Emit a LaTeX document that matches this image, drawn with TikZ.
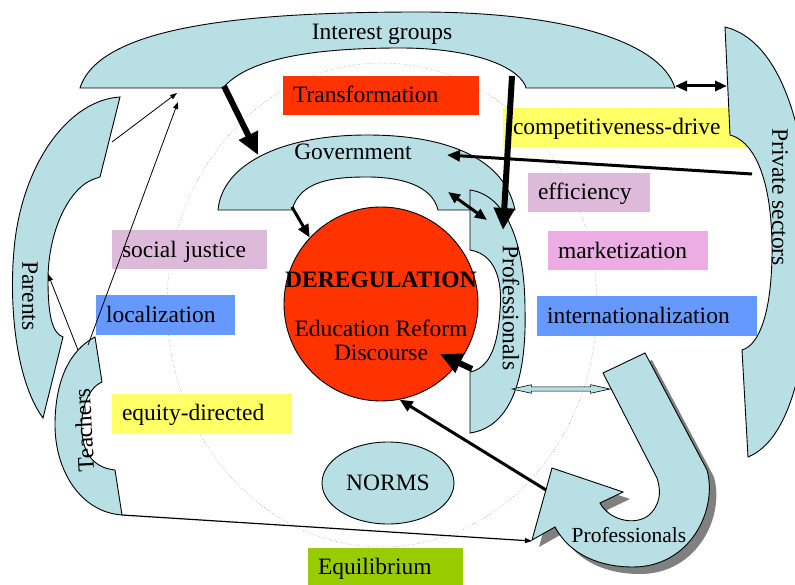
\documentclass[tikz,border=0pt]{standalone}
\usepackage{fontspec}
\setmainfont{Liberation Serif}
\usetikzlibrary{arrows.meta,shapes.geometric,shapes.arrows,shadows}
\definecolor{paleblue}{RGB}{184,224,228}
\definecolor{hotred}{RGB}{255,51,0}
\definecolor{lightyellow}{RGB}{255,255,102}
\definecolor{skyblue}{RGB}{102,153,255}
\definecolor{mauve}{RGB}{222,186,218}
\definecolor{pinkish}{RGB}{236,172,228}
\definecolor{limegreen}{RGB}{153,204,0}

\begin{document}
\begin{tikzpicture}[x=1pt,y=-1pt,
    every node/.style={font=\fontsize{23.5}{23.5}\selectfont},
    blob/.style={draw,fill=paleblue,line width=.9pt},
    tag/.style 2 args={rectangle,fill=#1,text width=#2,inner xsep=10pt,inner ysep=0pt,
      minimum height=39pt,text height=17pt,text depth=2pt,align=left},
    bigarrow/.style={line width=6pt,-{Triangle[length=22pt,width=20pt]}},
    medarrow/.style={line width=3pt,-{Triangle[length=13pt,width=11pt]}},
    twoway/.style={line width=3pt,{Triangle[length=12pt,width=10pt]}-{Triangle[length=12pt,width=10pt]}},
    thinarrow/.style={line width=.8pt,-{Triangle[length=7pt,width=5pt]}}]

    \useasboundingbox (0,0) rectangle (795,585);
    \clip (0,0) rectangle (795,585);

    % dotted ring
    \draw[gray,dotted,line width=.5pt] (382,305) ellipse [x radius=215,y radius=242];

    % labels
    \node[tag={hotred}{176pt}] (trans) at (381,95.5) {Transformation};
    \node[tag={lightyellow}{234pt}] (comp) at (630,127.5) {competitiveness-drive};
    \node[tag={mauve}{102pt}] (eff) at (589,192.5) {efficiency};
    \node[tag={pinkish}{140pt}] (mark) at (628,251) {marketization};
    \node[tag={skyblue}{200pt}] (intl) at (647,316) {internationalization};
    \node[tag={mauve}{135pt}] (soc) at (189.5,250) {social justice};
    \node[tag={skyblue}{119pt}] (loc) at (165.5,315) {localization};
    \node[tag={lightyellow}{160pt}] (equ) at (202,413) {equity-directed};
    \node[tag={limegreen}{135pt}] (equil) at (385.5,567) {Equilibrium};

    % interest groups
    \draw[blob] (80,88) -- (223,88) .. controls (245,62) and (300,48) .. (400,48)
      .. controls (470,48) and (515,65) .. (525,85) -- (526,88) -- (675,88)
      .. controls (660,40) and (560,12) .. (420,12) .. controls (250,12) and (100,25) .. (80,88) -- cycle;
    % government
    \draw[blob] (218,210) -- (292,210) .. controls (300,180) and (335,177) .. (367,177)
      .. controls (400,177) and (432,185) .. (438,210) -- (515,210)
      .. controls (505,160) and (450,135) .. (367,135) .. controls (280,135) and (222,165) .. (218,210) -- cycle;
    % professionals
    \draw[blob] (470,190) -- (470,250) .. controls (500,255) and (502,290) .. (500,310)
      .. controls (498,345) and (490,368) .. (470,372) -- (470,433)
      .. controls (505,428) and (527,390) .. (525,310) .. controls (525,240) and (505,195) .. (470,190) -- cycle;
    % private sectors
    \draw[blob] (725,27) -- (730,135) .. controls (750,140) and (772,170) .. (772,250)
      .. controls (772,310) and (760,345) .. (742,350) -- (748,457)
      .. controls (790,440) and (810,360) .. (810,250) .. controls (810,130) and (780,40) .. (725,27) -- cycle;
    % parents
    \draw[blob] (120,97) -- (100,177) -- (97,178) .. controls (70,185) and (48,230) .. (48,280)
      .. controls (48,315) and (52,333) .. (63,337) -- (43,418)
      .. controls (15,380) and (8,300) .. (15,240) .. controls (25,160) and (70,100) .. (120,97) -- cycle;
    % teachers
    \draw[blob] (95,337) -- (102,382) .. controls (88,388) and (80,410) .. (82,433)
      .. controls (84,455) and (95,468) .. (115,470) -- (122,515)
      .. controls (80,512) and (55,470) .. (55,425) .. controls (55,380) and (70,350) .. (95,337) -- cycle;
    % professionals, turning arrow
    \draw[blob,drop shadow={shadow xshift=7pt,shadow yshift=-7pt,fill=black!50,opacity=1}]
      (603,373) -- (645,353) -- (707,470) .. controls (718,510) and (690,567) .. (633,567)
      .. controls (600,567) and (570,555) .. (555,527) -- (532,540) -- (552,468) -- (623,492) -- (600,503)
      .. controls (610,522) and (640,527) .. (652,512) .. controls (662,500) and (660,488) .. (657,478) -- cycle;

    \node[circle,draw,fill=hotred,line width=.9pt,minimum size=194pt,inner sep=0pt] (drc) at (381,304) {};
    \node[align=center,anchor=base] (drtxt) at (381,360)
      {\textbf{DEREGULATION}\\[26pt]Education Reform\\Discourse};
    \node[ellipse,draw,fill=paleblue,line width=.9pt,minimum width=132pt,minimum height=82pt,inner sep=0pt]
      (norms) at (388,483) {NORMS};

    \node[anchor=base] (ig) at (382,40) {Interest groups};
    \node[anchor=base] (gov) at (353,160) {Government};
    \node[rotate=-90] (prof) at (511,308) {Professionals};
    \node[rotate=-90] (priv) at (780,197) {Private sectors};
    \node[rotate=-90] (par) at (30,296) {Parents};
    \node[rotate=93,inner sep=0pt] (teach) at (84,430) {Teachers};
    \node[anchor=base,font=\fontsize{21.5}{22}\selectfont] (prof2) at (629,542) {Professionals};
    \node[double arrow,draw,fill=paleblue,line width=.6pt,minimum height=98pt,inner sep=1.8pt,
      double arrow head extend=2.2pt,double arrow head indent=0pt,double arrow tip angle=25] (swap) at (561,389) {};

    % ends of the connectors
    \coordinate (igA) at (224,86);
    \coordinate (govA) at (258,155);
    \coordinate (igB) at (512,76);
    \coordinate (profA) at (503,230);
    \coordinate (privA) at (752,174);
    \coordinate (govB) at (447,155);
    \coordinate (govC) at (292,207);
    \coordinate (govD) at (448,192);
    \coordinate (profB) at (487,220);
    \coordinate (profC) at (472,369);
    \coordinate (drcA) at (440,354);
    \coordinate (prof2A) at (546,490);
    \coordinate (igC) at (675,86);
    \coordinate (privB) at (727,86);
    \coordinate (parA) at (112,142);
    \coordinate (igD) at (177,93);
    \coordinate (teachA) at (88,345);
    \coordinate (igE) at (178,102);
    \coordinate (parB) at (48,274);
    \coordinate (teachB) at (78,350);
    \coordinate (teachC) at (122,515);
    \coordinate (prof2B) at (532,541);

    \draw[bigarrow] (igA) -- (govA);
    \draw[bigarrow] (igB) -- (profA);
    \draw[bigarrow] (profC) -- (drcA);
    \draw[medarrow] (privA) -- (govB);
    \draw[medarrow] (govC) -- (drc.137);
    \draw[medarrow] (prof2A) -- (drc.-79);
    \draw[twoway] (govD) -- (profB);
    \draw[twoway] (igC) -- (privB);
    \draw[thinarrow] (parA) -- (igD);
    \draw[thinarrow] (teachA) -- (igE);
    \draw[thinarrow,{Triangle[length=7pt,width=5pt]}-] (parB) -- (teachB);
    \draw[thinarrow,line width=1.2pt] (teachC) -- (prof2B);

\end{tikzpicture}
\end{document}
